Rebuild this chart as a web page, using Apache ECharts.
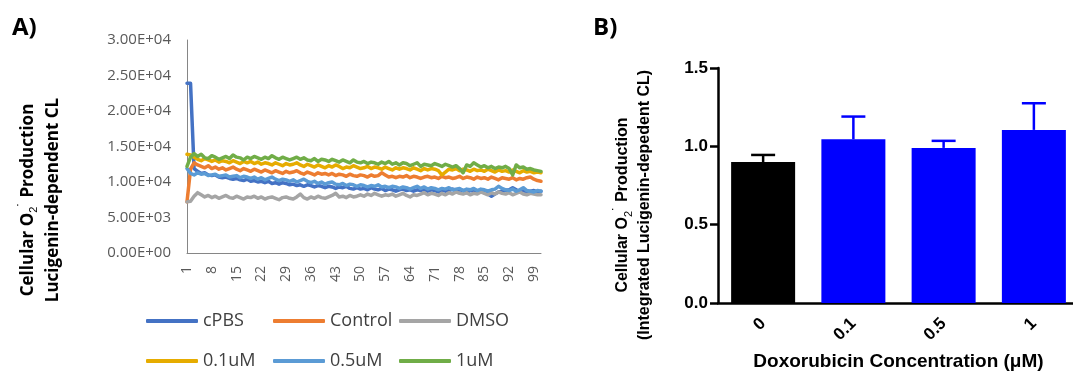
<!DOCTYPE html>
<html>
<head>
<meta charset="utf-8">
<script src="https://cdn.jsdelivr.net/npm/echarts@6/dist/echarts.min.js"></script>
<style>
html, body { margin: 0; padding: 0; background: #fff; }
#chart { width: 1073px; height: 375px; }
</style>
</head>
<body>
<div id="chart"></div>
<script>
// panel A: time course, readings 1..101
var timePoints = []
for (var t = 1; t <= 101; t++) timePoints.push(String(t))

var cPBS = [
    23900, 23900, 11900, 11500, 11200, 11300, 11000, 10900, 11000, 10700,
    10600, 10700, 10500, 10400, 10500, 10300, 10200, 10400, 10100, 10200,
    10000, 10100, 9900, 10100, 9800, 9900, 9700, 9900, 9800, 9600,
    9700, 9500, 9600, 9400, 9600, 9500, 9300, 9500, 9400, 9200,
    9400, 9300, 9100, 9300, 9200, 9400, 9100, 9000, 9200, 9000,
    9100, 8900, 9200, 9000, 8900, 9100, 8800, 9000, 8900, 8700,
    8900, 9000, 8800, 8900, 8700, 8900, 8800, 9000, 8700, 8900,
    8800, 8600, 8900, 8700, 8800, 9000, 8700, 8900, 8800, 8500,
    8800, 8700, 8600, 8700, 8500, 8300, 8000, 8300, 8600, 8700,
    8800, 8900, 9200, 8900, 8700, 8800, 8600, 8700, 8800, 8600,
    8700
]
var control = [
    7200, 11800, 12700, 12400, 12200, 12000, 12300, 11900, 12100, 11800,
    12000, 11700, 11900, 12100, 11800, 11600, 11900, 11700, 11500, 11800,
    11600, 11400, 11700, 11500, 11300, 11600, 11400, 11200, 11500, 11300,
    11400, 11600, 11300, 11100, 11400, 11200, 11000, 11300, 11100, 11200,
    11000, 11200, 10900, 11100, 11000, 10800, 11100, 10900, 10800, 11000,
    10900, 10700, 11000, 10800, 10900, 11300, 11000, 10700, 10800, 10600,
    10800, 10700, 10900, 10600, 10800, 10700, 10500, 10700, 10800, 10600,
    10700, 10500, 10800, 10600, 10700, 10500, 10600, 10800, 10500, 10700,
    10600, 10400, 10700, 10500, 10600, 10400, 10700, 10500, 10300, 10600,
    10500, 10400, 10600, 10300, 10500, 10400, 10600, 10700, 10400, 10200,
    10100
]
var dmso = [
    7200, 7300, 8000, 8500, 8200, 7900, 8100, 7800, 8000, 7700,
    7900, 8100, 7800, 7700, 8000, 7800, 7600, 7900, 7800, 8000,
    7700, 7900, 7600, 7800, 7900, 7700, 7500, 7800, 7900, 7700,
    7600, 7900, 8300, 7800, 7600, 7900, 7700, 8000, 7800, 7700,
    7900, 8100, 8400, 7900, 8000, 7800, 8100, 7900, 8000, 8200,
    8000, 8300, 8100, 8400, 8200, 8000, 8200, 8100, 8300, 8000,
    8200, 8400, 8100, 7900, 8200, 8100, 8300, 8500, 8200, 8400,
    8300, 8100, 8400, 8200, 8500, 8300, 8600, 8400, 8300, 8500,
    8200, 8400, 8300, 8600, 8400, 8200, 8500, 8300, 8600, 8400,
    8300, 8500, 8200, 8400, 8600, 8300, 8200, 8400, 8300, 8200,
    8200
]
var dox01 = [
    13900, 13800, 13500, 13200, 13000, 13300, 13100, 12900, 13100, 12800,
    13000, 12900, 12700, 13000, 12800, 12600, 12900, 12700, 12900, 12600,
    12800, 12500, 12700, 12600, 12400, 12700, 12500, 12300, 12600, 12400,
    12500, 12700, 12400, 12200, 12500, 12300, 12100, 12400, 12200, 12000,
    12300, 12100, 12400, 12200, 11900, 12100, 12000, 12300, 12100, 11900,
    12000, 12200, 11900, 12100, 12000, 11800, 12100, 11900, 11700, 12000,
    11800, 12000, 11900, 11700, 12000, 11800, 11600, 11900, 11700, 11900,
    11800, 11600, 11000, 11400, 11800, 11700, 11900, 11600, 11800, 11700,
    11500, 11800, 11600, 11700, 11500, 11800, 11600, 11400, 11700, 11500,
    11600, 11400, 11700, 11500, 11300, 11600, 11400, 11500, 11300, 11400,
    11300
]
var dox05 = [
    11900, 11200, 11000, 11300, 11100, 11200, 10900, 11000, 11100, 10800,
    10900, 11000, 10700, 10800, 10900, 10600, 10800, 10700, 10500, 10700,
    10400, 10600, 10300, 10500, 10700, 10400, 10200, 10400, 10300, 10100,
    10300, 10000, 10200, 10400, 10100, 9900, 10100, 9800, 10000, 9700,
    9900, 10000, 9700, 9600, 9800, 9500, 9700, 9600, 9400, 9600,
    9500, 9300, 9500, 9400, 9600, 9300, 9400, 9200, 9400, 9300,
    9100, 9300, 9200, 9000, 9200, 9400, 9100, 9300, 9000, 9200,
    9100, 8900, 9100, 9000, 9200, 8900, 9000, 9100, 8800, 9000,
    8900, 9100, 8800, 9000, 8900, 8700, 8900, 9000, 9400, 9100,
    8900, 8800, 9000, 8700, 8900, 9200, 8800, 8700, 8600, 8800,
    8700
]
var dox1 = [
    12200, 13500, 14000, 13600, 13900, 13400, 13300, 13700, 13500, 13200,
    13400, 13600, 13300, 13800, 13500, 13400, 13100, 13500, 13300, 13600,
    13400, 13200, 13500, 13300, 13700, 13400, 13200, 13500, 13300, 13100,
    13300, 13500, 13200, 13400, 13100, 13000, 13300, 12900, 13200, 13100,
    12900, 13200, 13000, 12800, 13100, 12900, 12700, 13100, 12800, 12700,
    12900, 12600, 12800, 12700, 12500, 12800, 12600, 12900, 12500, 12700,
    12400, 12700, 12600, 12300, 12500, 12700, 12200, 12500, 12400, 12300,
    12600, 12400, 12200, 12500, 12300, 12100, 12300, 11900, 11300, 12400,
    12200, 12700, 12400, 12100, 12300, 12000, 12200, 11900, 12100, 12000,
    12200, 11900, 11000, 12400, 12000, 12100, 11800, 11900, 11700, 11600,
    11500
]
var lineNames = ['cPBS', 'Control', 'DMSO', '0.1uM', '0.5uM', '1uM']
var lineData = [cPBS, control, dmso, dox01, dox05, dox1]
var lineColors = ['#4472c4', '#ed7d31', '#a5a5a5', '#e6ac00', '#5b9bd5', '#70ad47']

// panel B: integrated CL, mean + SEM
var doseLabels = ['0', '0.1', '0.5', '1']
var doseMeans = [0.90, 1.045, 0.99, 1.105]
var doseSem = [0.045, 0.145, 0.045, 0.17]
var doseColors = ['#000000', '#0000ff', '#0000ff', '#0000ff']

function fmtExp(v) {
    if (v === 0) return '0.00E+00'
    var p = v.toExponential(2).split('e')
    var e = parseInt(p[1], 10)
    return p[0] + 'E' + (e < 0 ? '-' : '+') + (Math.abs(e) < 10 ? '0' : '') + Math.abs(e)
}

var chart = echarts.init(document.getElementById('chart'))

var legendLeft = [146, 273, 399]
var legends = lineNames.map(function (name, i) {
    return {
        data: [name],
        left: legendLeft[i % 3],
        top: i < 3 ? 312 : 352,
        padding: 0,
        icon: 'roundRect',
        itemWidth: 52,
        itemHeight: 4,
        textStyle: { fontSize: 18, fontFamily: 'Open Sans', color: '#404040' },
    }
})

var richSub = {
    sub: { fontSize: 11, verticalAlign: 'bottom', lineHeight: 11 },
    sup: { fontSize: 14, verticalAlign: 'top', lineHeight: 12 },
}

chart.setOption({
    animation: false,
    grid: [
        { left: 187, top: 40, width: 354, height: 213, outerBoundsMode: 'none' },
        { left: 718, top: 68, width: 361, height: 235, outerBoundsMode: 'none' },
    ],
    legend: legends,
    xAxis: [
        {
            gridIndex: 0,
            type: 'category',
            data: timePoints,
            boundaryGap: false,
            axisLine: { lineStyle: { color: '#868686', width: 1 } },
            axisTick: { show: false },
            axisLabel: { interval: 6, rotate: 90, margin: 13, fontSize: 14, color: '#595959', fontFamily: 'Open Sans' },
        },
        {
            gridIndex: 1,
            type: 'category',
            data: doseLabels,
            axisLine: { lineStyle: { color: '#000', width: 2.5 } },
            axisTick: { alignWithLabel: true, length: 9, lineStyle: { color: '#000', width: 2.5 } },
            axisLabel: { rotate: 45, margin: 18, fontSize: 17, fontWeight: 'bold', color: '#000', fontFamily: 'Liberation Sans' },
            name: 'Doxorubicin Concentration (μM)',
            nameLocation: 'middle',
            nameGap: 49,
            nameTextStyle: { fontSize: 19, fontWeight: 'bold', color: '#000', fontFamily: 'Liberation Sans' },
        },
    ],
    yAxis: [
        {
            gridIndex: 0,
            type: 'value',
            min: 0,
            max: 30000,
            interval: 5000,
            axisLine: { show: true, lineStyle: { color: '#868686', width: 1 } },
            axisTick: { show: false },
            splitLine: { show: false },
            axisLabel: { formatter: fmtExp, margin: 16, fontSize: 15, color: '#595959', fontFamily: 'Open Sans' },
        },
        {
            gridIndex: 1,
            type: 'value',
            min: 0,
            max: 1.5,
            interval: 0.5,
            axisLine: { show: true, lineStyle: { color: '#000', width: 2.5 } },
            axisTick: { show: true, length: 8, lineStyle: { color: '#000', width: 2.5 } },
            splitLine: { show: false },
            axisLabel: {
                formatter: function (v) { return v.toFixed(1) },
                margin: 10, fontSize: 17, fontWeight: 'bold', color: '#000', fontFamily: 'Liberation Sans',
            },
        },
    ],
    series: lineNames.map(function (name, i) {
        return {
            name: name,
            type: 'line',
            xAxisIndex: 0,
            yAxisIndex: 0,
            data: lineData[i],
            symbol: 'none',
            color: lineColors[i],
            lineStyle: { width: 3.5, color: lineColors[i], cap: 'round', join: 'round' },
        }
    }).concat([
        {
            type: 'bar',
            xAxisIndex: 1,
            yAxisIndex: 1,
            barWidth: 64,
            data: doseMeans.map(function (v, i) {
                return { value: v, itemStyle: { color: doseColors[i] } }
            }),
        },
        {
            type: 'custom',
            xAxisIndex: 1,
            yAxisIndex: 1,
            z: 3,
            data: doseMeans.map(function (v, i) { return [i, v, v + doseSem[i]] }),
            renderItem: function (params, api) {
                var x = api.value(0)
                var base = api.coord([x, api.value(1)])
                var top = api.coord([x, api.value(2)])
                var style = { stroke: doseColors[params.dataIndex], lineWidth: 2.5 }
                return {
                    type: 'group',
                    children: [
                        { type: 'line', shape: { x1: base[0], y1: base[1], x2: top[0], y2: top[1] }, style: style },
                        { type: 'line', shape: { x1: top[0] - 12, y1: top[1], x2: top[0] + 12, y2: top[1] }, style: style },
                    ],
                }
            },
        },
    ]),
    graphic: [
        { type: 'text', left: 12, top: 16, style: { text: 'A)', fontSize: 24, fontWeight: 'bold', fontFamily: 'Open Sans', fill: '#000' } },
        { type: 'text', left: 593, top: 16, style: { text: 'B)', fontSize: 24, fontWeight: 'bold', fontFamily: 'Open Sans', fill: '#000' } },
        {
            type: 'text', x: 28, y: 200, rotation: Math.PI / 2,
            style: {
                text: 'Cellular O{sub|2}{sup|˙} Production', rich: richSub, lineHeight: 22,
                fontSize: 17, fontWeight: 'bold', fontFamily: 'Open Sans', fill: '#000', align: 'center', verticalAlign: 'middle',
            },
        },
        {
            type: 'text', x: 53, y: 200, rotation: Math.PI / 2,
            style: {
                text: 'Lucigenin-dependent CL',
                fontSize: 17, fontWeight: 'bold', fontFamily: 'Open Sans', fill: '#000', align: 'center', verticalAlign: 'middle',
            },
        },
        {
            type: 'text', x: 623, y: 205, rotation: Math.PI / 2,
            style: {
                text: 'Cellular O{sub|2}{sup|˙} Production', rich: richSub, lineHeight: 22,
                fontSize: 16, fontWeight: 'bold', fontFamily: 'Liberation Sans', fill: '#000', align: 'center', verticalAlign: 'middle',
            },
        },
        {
            type: 'text', x: 645, y: 205, rotation: Math.PI / 2,
            style: {
                text: '(Integrated Lucigenin-depedent CL)',
                fontSize: 16, fontWeight: 'bold', fontFamily: 'Liberation Sans', fill: '#000', align: 'center', verticalAlign: 'middle',
            },
        },
    ],
})
</script>
</body>
</html>
